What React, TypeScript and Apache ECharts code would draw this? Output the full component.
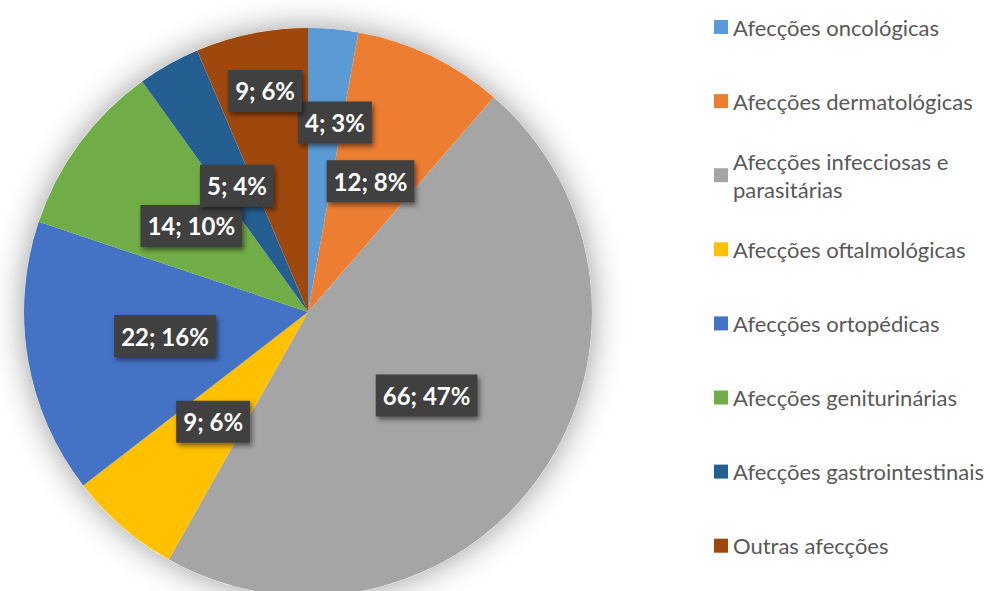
import React, { useEffect, useRef } from "react";
import * as echarts from "echarts";

const categories = [
  "Afecções oncológicas",
  "Afecções dermatológicas",
  "Afecções infecciosas e parasitárias",
  "Afecções oftalmológicas",
  "Afecções ortopédicas",
  "Afecções geniturinárias",
  "Afecções gastrointestinais",
  "Outras afecções",
];
const values = [4, 12, 66, 9, 22, 14, 5, 9];
const colors = ["#5B9BD5", "#ED7D31", "#A5A5A5", "#FFC000", "#4472C4", "#70AD47", "#255E91", "#9E480E"];

// label nudges (style only) for slices whose labels sit off the mid radius
const labelNudges: Record<number, [number, number]> = { 0: [14, -45], 7: [-14, -79] };

export default function App() {
  const ref = useRef<HTMLDivElement>(null);
  useEffect(() => {
    document.body.style.margin = "0";
    if (!ref.current) return;
    const chart = echarts.init(ref.current, undefined, { renderer: "svg" });
    const total = values.reduce((a, b) => a + b, 0);
    const center = [308, 312];
    const radius = 284;
    const legendStep = 74.1;
    const firstLegendCenter = 27;
    const legends = categories.map((name, i) => {
      const c = firstLegendCenter + i * legendStep;
      const twoLine = name.indexOf("infecciosas") >= 0;
      return {
        data: [name],
        orient: "vertical" as const,
        left: 714,
        top: twoLine ? c - 42 : c - 14,
        padding: 0,
        icon: "rect",
        itemWidth: 14,
        itemHeight: 14,
        selectedMode: false,
        formatter: (n: string) => (n.indexOf("infecciosas") >= 0 ? "Afecções infecciosas e\nparasitárias" : n),
        textStyle: {
          fontFamily: "Lato",
          fontSize: 22,
          color: "#595959",
          lineHeight: 28,
          padding: twoLine ? [28, 0, 0, 0] : 0,
        },
      };
    });
    chart.setOption({
      animation: false,
      backgroundColor: "#ffffff",
      legend: legends,
      series: [
        {
          type: "pie",
          name: "shadow",
          center,
          radius,
          silent: true,
          z: 1,
          label: { show: false },
          labelLine: { show: false },
          data: [
            {
              value: total,
              name: "__bg",
              itemStyle: {
                color: "#ffffff",
                shadowBlur: 32,
                shadowColor: "rgba(0,0,0,0.4)",
              },
            },
          ],
        },
        {
          type: "pie",
          center,
          radius,
          startAngle: 90,
          clockwise: true,
          z: 2,
          percentPrecision: 0,
          avoidLabelOverlap: false,
          labelLayout: { hideOverlap: false },
          labelLine: { show: false },
          label: {
            show: true,
            position: "inside",
            formatter: "{c}; {d}%",
            color: "#ffffff",
            fontFamily: "Lato",
            fontWeight: "bold",
            fontSize: 24,
            lineHeight: 26,
            backgroundColor: "#3f3f3f",
            padding: [8, 7, 8, 7],
            shadowColor: "rgba(0,0,0,0.5)",
            shadowBlur: 5,
            shadowOffsetX: 2,
            shadowOffsetY: 3,
          },
          emphasis: { disabled: true },
          data: categories.map((name, i) => ({
            name,
            value: values[i],
            itemStyle: { color: colors[i] },
            label: labelNudges[i] ? { offset: labelNudges[i] } : undefined,
          })),
        },
      ],
    });
    return () => chart.dispose();
  }, []);
  return <div ref={ref} style={{ width: 990, height: 591 }} />;
}
